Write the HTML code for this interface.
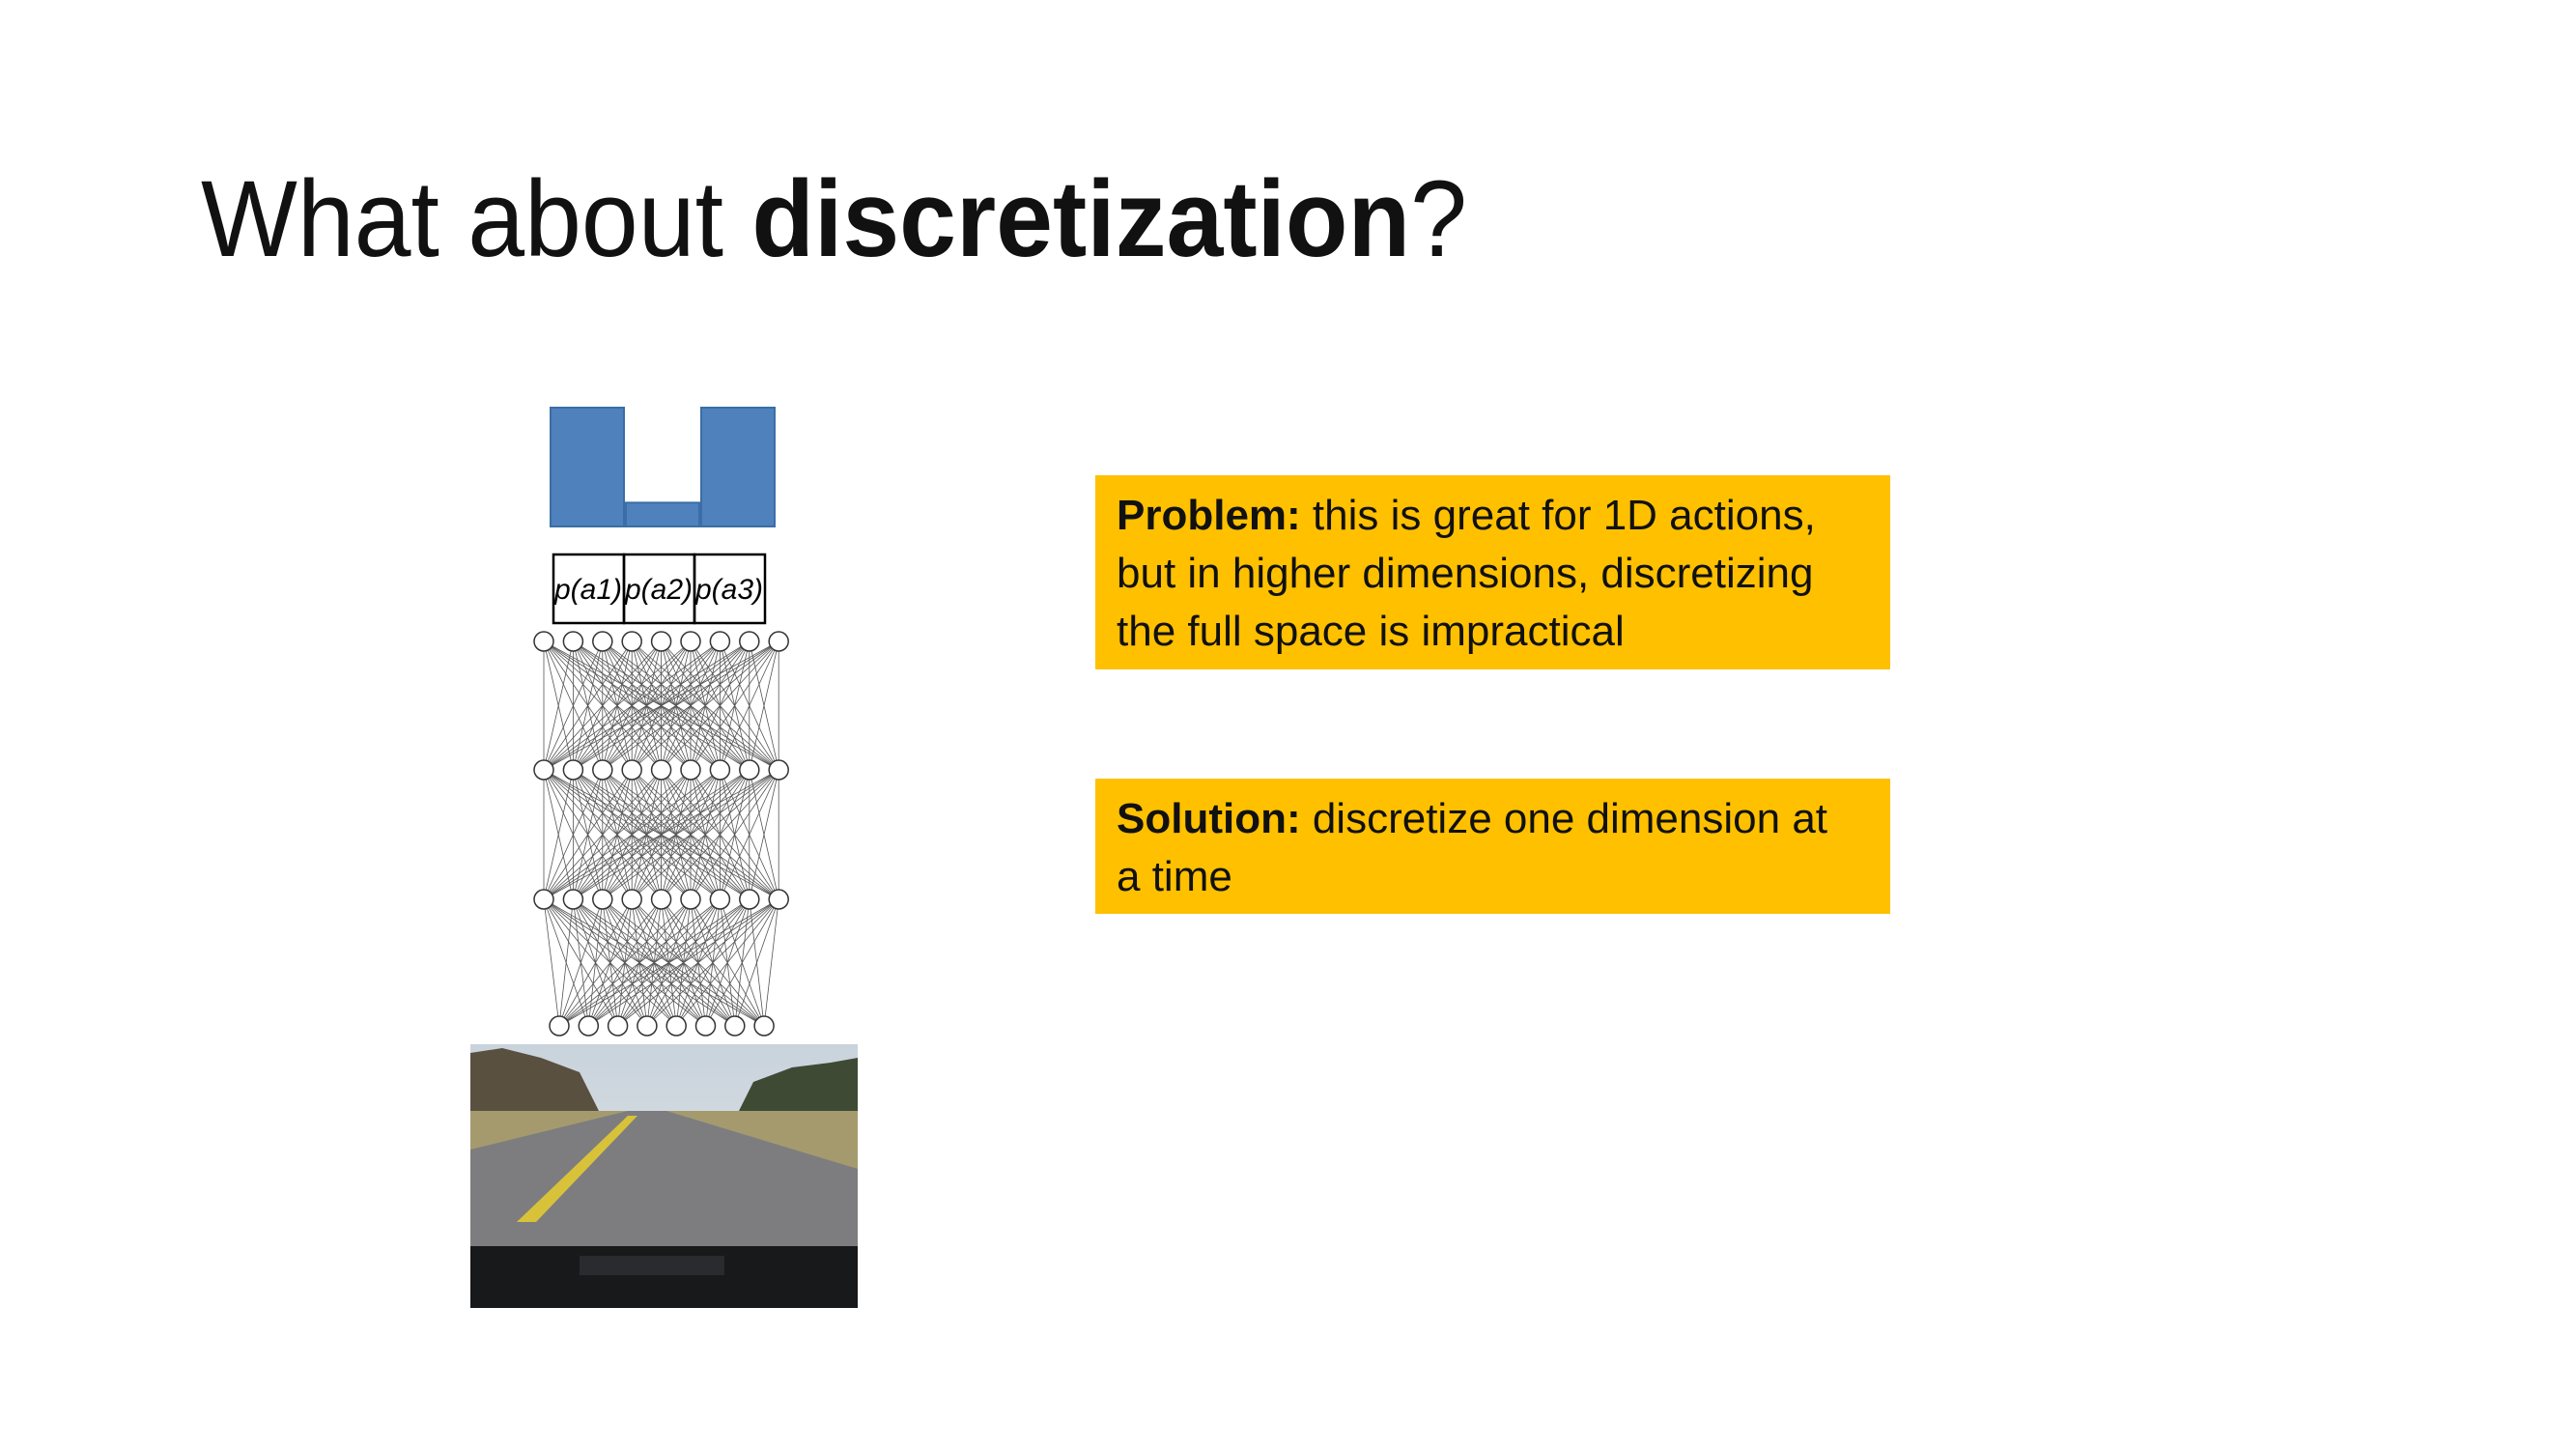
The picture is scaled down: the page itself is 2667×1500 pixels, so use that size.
<!DOCTYPE html>
<html><head><meta charset="utf-8"><style>
html,body{margin:0;padding:0;background:#fff;}
svg{display:block;}
text{font-family:"Liberation Sans",sans-serif;}
</style></head><body>
<svg width="2667" height="1500" viewBox="0 0 2667 1500">
<text x="208" y="265" font-size="112" fill="#111" textLength="1311" lengthAdjust="spacingAndGlyphs">What about <tspan font-weight="bold">discretization</tspan>?</text>

<g id="bars"></g>
<g id="boxes"></g>
<g id="net"></g>

<g>
<defs><linearGradient id="sky" x1="0" y1="0" x2="0" y2="1"><stop offset="0" stop-color="#c9d3dc"/><stop offset="1" stop-color="#e3e6e8"/></linearGradient></defs>
<rect x="487" y="1081" width="401" height="273" fill="url(#sky)"/>
<polygon points="487,1090 520,1085 560,1095 600,1110 620,1150 487,1160" fill="#5a5040"/>
<polygon points="780,1120 820,1105 860,1100 888,1095 888,1160 760,1160" fill="#3f4a35"/>
<rect x="487" y="1150" width="401" height="60" fill="#a59a6e"/>
<polygon points="487,1190 650,1150 690,1150 888,1210 888,1300 487,1300" fill="#7d7d80"/>
<polygon points="535,1265 650,1155 660,1155 555,1265" fill="#d8c23a"/>
<rect x="487" y="1290" width="401" height="64" fill="#18191b"/>
<rect x="600" y="1300" width="150" height="20" fill="#2a2b2e"/>
</g>

<g>
<rect x="1134" y="492" width="823" height="201" fill="#ffc000"/>
<text x="1156" y="548" font-size="44" fill="#111"><tspan font-weight="bold">Problem:</tspan> this is great for 1D actions,</text>
<text x="1156" y="608" font-size="44" fill="#111">but in higher dimensions, discretizing</text>
<text x="1156" y="668" font-size="44" fill="#111">the full space is impractical</text>
</g>
<g>
<rect x="1134" y="806" width="823" height="140" fill="#ffc000"/>
<text x="1156" y="862" font-size="44" fill="#111"><tspan font-weight="bold">Solution:</tspan> discretize one dimension at</text>
<text x="1156" y="922" font-size="44" fill="#111">a time</text>
</g>
</svg>
<script>
const categories=["a1","a2","a3"];
const probs=[1.0,0.2,1.0];
const NS="http://www.w3.org/2000/svg";
function mk(t,a,p){const e=document.createElementNS(NS,t);for(const k in a)e.setAttribute(k,a[k]);p.appendChild(e);return e;}
const bars=document.getElementById('bars');
const baseY=545,maxH=123,x0=570,bw=76;
function yS(v){return baseY-v*maxH;}
probs.forEach((v,i)=>{
 const r=mk('rect',{x:x0+i*78,y:yS(v),width:bw,height:baseY-yS(v),fill:'#4f81bd',stroke:'#3a6ea5','stroke-width':2},bars);
 
 
});
const boxes=document.getElementById('boxes');
categories.forEach((c,i)=>{
 const g=mk('g',{},boxes);
 
 
 mk('rect',{x:573+i*73,y:574,width:73,height:71,fill:'none',stroke:'#000','stroke-width':2.5},g);
 const t=mk('text',{x:574+i*73,y:620,'font-size':30,'font-style':'italic','font-family':'Liberation Serif, serif'},g);
 t.textContent='p(a'+(i+1)+')';
});
const net=document.getElementById('net');
const layers=[{y:664,n:9,x:563,dx:30.4},{y:797,n:9,x:563,dx:30.4},{y:931,n:9,x:563,dx:30.4},{y:1062,n:8,x:579,dx:30.3}];
for(let l=0;l<layers.length-1;l++){const A=layers[l],B=layers[l+1];
 for(let i=0;i<A.n;i++)for(let j=0;j<B.n;j++)mk('line',{x1:A.x+i*A.dx,y1:A.y,x2:B.x+j*B.dx,y2:B.y,stroke:'#555','stroke-width':0.8},net);}
layers.forEach(L=>{for(let i=0;i<L.n;i++){const c=mk('circle',{cx:L.x+i*L.dx,cy:L.y,r:10,fill:'#fff',stroke:'#333','stroke-width':1.5},net);
 
 }});
</script>
</body></html>
